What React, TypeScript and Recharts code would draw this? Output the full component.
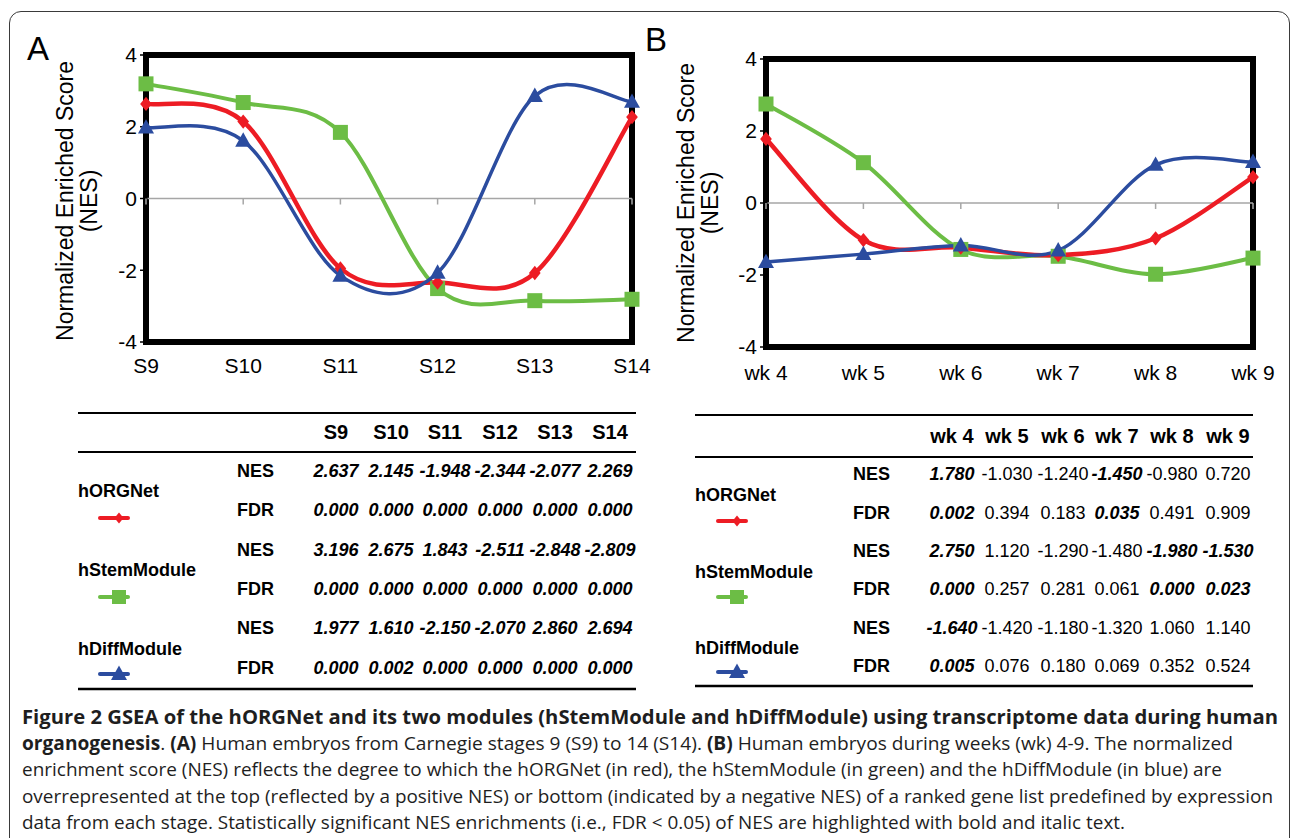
import React from 'react';
import { LineChart, Line, XAxis, YAxis, ReferenceLine, ReferenceArea } from 'recharts';

// ---------- data ----------
const stagesA = ['S9', 'S10', 'S11', 'S12', 'S13', 'S14'];
const orgNesA = [2.637, 2.145, -1.948, -2.344, -2.077, 2.269];
const orgFdrA = [0.0, 0.0, 0.0, 0.0, 0.0, 0.0];
const stemNesA = [3.196, 2.675, 1.843, -2.511, -2.848, -2.809];
const stemFdrA = [0.0, 0.0, 0.0, 0.0, 0.0, 0.0];
const diffNesA = [1.977, 1.61, -2.15, -2.07, 2.86, 2.694];
const diffFdrA = [0.0, 0.002, 0.0, 0.0, 0.0, 0.0];

const weeksB = ['wk 4', 'wk 5', 'wk 6', 'wk 7', 'wk 8', 'wk 9'];
const orgNesB = [1.78, -1.03, -1.24, -1.45, -0.98, 0.72];
const orgFdrB = [0.002, 0.394, 0.183, 0.035, 0.491, 0.909];
const stemNesB = [2.75, 1.12, -1.29, -1.48, -1.98, -1.53];
const stemFdrB = [0.0, 0.257, 0.281, 0.061, 0.0, 0.023];
const diffNesB = [-1.64, -1.42, -1.18, -1.32, 1.06, 1.14];
const diffFdrB = [0.005, 0.076, 0.18, 0.069, 0.352, 0.524];

const yTicks = [-4, -2, 0, 2, 4];
const seriesNames = ['hORGNet', 'hStemModule', 'hDiffModule'];

const RED = '#ED1C24';
const GREEN = '#6CBD45';
const BLUE = '#2B4C9F';
const FONT = '"Liberation Sans", Arial, Helvetica, sans-serif';

// Excel-like smoothed line (Catmull-Rom bezier)
function excelCurve(context: any) {
  let pts: number[][] = [];
  return {
    areaStart() {},
    areaEnd() {},
    lineStart() {
      pts = [];
    },
    point(x: number, y: number) {
      pts.push([+x, +y]);
    },
    lineEnd() {
      const n = pts.length;
      if (!n) return;
      context.moveTo(pts[0][0], pts[0][1]);
      const t = 1 / 6;
      for (let i = 0; i < n - 1; i++) {
        const p0 = pts[Math.max(i - 1, 0)];
        const p1 = pts[i];
        const p2 = pts[i + 1];
        const p3 = pts[Math.min(i + 2, n - 1)];
        context.bezierCurveTo(
          p1[0] + (p2[0] - p0[0]) * t,
          p1[1] + (p2[1] - p0[1]) * t,
          p2[0] - (p3[0] - p1[0]) * t,
          p2[1] - (p3[1] - p1[1]) * t,
          p2[0],
          p2[1]
        );
      }
    },
  };
}

const diamondPath = (cx: number, cy: number, s: number) =>
  `M${cx},${cy - s * 1.1}L${cx + s * 0.9},${cy}L${cx},${cy + s * 1.1}L${cx - s * 0.9},${cy}Z`;
const squarePath = (cx: number, cy: number, s: number) =>
  `M${cx - s},${cy - s}h${2 * s}v${2 * s}h${-2 * s}Z`;
const trianglePath = (cx: number, cy: number, s: number) =>
  `M${cx},${cy - s * 1.05}L${cx + s},${cy + s * 0.75}L${cx - s},${cy + s * 0.75}Z`;

const markerFns = [diamondPath, squarePath, trianglePath];
const colors = [RED, GREEN, BLUE];

function makeDot(kind: number, size: number) {
  return (p: any) => {
    if (p.cx == null || p.cy == null) return <g key={`e${kind}-${p.index}`} />;
    return <path key={`m${kind}-${p.index}`} d={markerFns[kind](p.cx, p.cy, size)} fill={colors[kind]} stroke="none" />;
  };
}

const zeroTick = (p: any) => (
  <line key={`z${p.index}`} x1={p.cx} x2={p.cx} y1={p.cy} y2={p.cy + 6} stroke="#a6a6a6" strokeWidth={1.5} />
);

type PanelProps = {
  cats: string[];
  org: number[];
  stem: number[];
  diff: number[];
  left: number;
  width: number;
  height: number;
  margin: { top: number; right: number; bottom: number; left: number };
  xAxisHeight: number;
  tickMargin: number;
};

function Panel({ cats, org, stem, diff, left, width, height, margin, xAxisHeight, tickMargin }: PanelProps) {
  const data = cats.map((c, i) => ({ cat: c, org: org[i], stem: stem[i], diff: diff[i], zero: 0 }));
  return (
    <div style={{ position: 'absolute', left, top: 0, width, height }}>
      <LineChart width={width} height={height} data={data} margin={margin}>
        <XAxis
          dataKey="cat"
          type="category"
          scale="point"
          padding={{ left: 0, right: 0 }}
          axisLine={false}
          tickLine={false}
          tickMargin={tickMargin}
          height={xAxisHeight}
          interval={0}
          tick={{ fontSize: 21, fill: '#000', fontFamily: FONT }}
        />
        <YAxis
          domain={[-4, 4]}
          ticks={yTicks}
          width={46}
          axisLine={{ stroke: '#000', strokeWidth: 3 }}
          tickLine={{ stroke: '#000', strokeWidth: 1.5 }}
          tickSize={6}
          tickMargin={3}
          interval={0}
          tick={{ fontSize: 21, fill: '#000', fontFamily: FONT }}
        />
        <ReferenceArea x1={cats[0]} x2={cats[cats.length - 1]} y1={-4} y2={4} fill="none" fillOpacity={0} stroke="#000" strokeWidth={6} />
        <ReferenceLine y={0} stroke="#a6a6a6" strokeWidth={1.5} />
        <Line dataKey="zero" stroke="none" dot={zeroTick} activeDot={false} isAnimationActive={false} legendType="none" />
        <Line dataKey="stem" type={excelCurve as any} stroke={GREEN} strokeWidth={4} dot={makeDot(1, 7.5)} activeDot={false} isAnimationActive={false} />
        <Line dataKey="org" type={excelCurve as any} stroke={RED} strokeWidth={4.5} dot={makeDot(0, 6.5)} activeDot={false} isAnimationActive={false} />
        <Line dataKey="diff" type={excelCurve as any} stroke={BLUE} strokeWidth={3.5} dot={makeDot(2, 8)} activeDot={false} isAnimationActive={false} />
      </LineChart>
    </div>
  );
}

type TableProps = {
  cats: string[];
  nes: number[][];
  fdr: number[][];
  colX: number[];
  ruleX1: number;
  ruleX2: number;
  rules: number[];
  headerY: number;
  rowY: number[];
  nameX: number;
  labelX: number;
  nameY: number[];
  markerX: number;
  markerY: number[];
};

function LegendMarker({ kind, x, y }: { kind: number; x: number; y: number }) {
  return (
    <g>
      <line x1={x} x2={x + 28} y1={y} y2={y} stroke={colors[kind]} strokeWidth={4} strokeLinecap="round" />
      <path d={markerFns[kind](x + 19, y, kind === 0 ? 5 : kind === 1 ? 7 : 8)} fill={colors[kind]} />
    </g>
  );
}

function DataTable(p: TableProps) {
  const fs = 18;
  return (
    <g fontFamily={FONT} fontSize={fs} fill="#000">
      <line x1={p.ruleX1} x2={p.ruleX2} y1={p.rules[0]} y2={p.rules[0]} stroke="#000" strokeWidth={2} />
      <line x1={p.ruleX1} x2={p.ruleX2} y1={p.rules[1]} y2={p.rules[1]} stroke="#000" strokeWidth={2} />
      <line x1={p.ruleX1} x2={p.ruleX2} y1={p.rules[2]} y2={p.rules[2]} stroke="#000" strokeWidth={2.5} />
      {p.cats.map((c, i) => (
        <text key={`h${i}`} x={p.colX[i]} y={p.headerY} textAnchor="middle" dominantBaseline="central" fontWeight={700} fontSize={20}>
          {c}
        </text>
      ))}
      {seriesNames.map((nm, s) => (
        <g key={`s${s}`}>
          <text x={p.nameX} y={p.nameY[s]} dominantBaseline="central" fontWeight={700}>
            {nm}
          </text>
          <LegendMarker kind={s} x={p.markerX} y={p.markerY[s]} />
          <text x={p.labelX} y={p.rowY[2 * s]} dominantBaseline="central" fontWeight={700}>
            NES
          </text>
          <text x={p.labelX} y={p.rowY[2 * s + 1]} dominantBaseline="central" fontWeight={700}>
            FDR
          </text>
          {p.cats.map((c, i) => {
            const sig = p.fdr[s][i] < 0.05;
            const st = { fontWeight: sig ? 700 : 400, fontStyle: sig ? 'italic' : 'normal' } as any;
            return (
              <g key={`v${s}-${i}`}>
                <text x={p.colX[i]} y={p.rowY[2 * s]} textAnchor="middle" dominantBaseline="central" style={st}>
                  {p.nes[s][i].toFixed(3)}
                </text>
                <text x={p.colX[i]} y={p.rowY[2 * s + 1]} textAnchor="middle" dominantBaseline="central" style={st}>
                  {p.fdr[s][i].toFixed(3)}
                </text>
              </g>
            );
          })}
        </g>
      ))}
    </g>
  );
}

function YTitle({ x1, x2, cy }: { x1: number; x2: number; cy: number }) {
  return (
    <g fontFamily={FONT} fontSize={23} fill="#000">
      <text x={x1} y={cy} transform={`rotate(-90 ${x1} ${cy})`} textAnchor="middle" dominantBaseline="central">
        Normalized Enriched Score
      </text>
      <text x={x2} y={cy} transform={`rotate(-90 ${x2} ${cy})`} textAnchor="middle" dominantBaseline="central">
        (NES)
      </text>
    </g>
  );
}

export default function App() {
  const capFont = '"Open Sans", "Noto Sans", sans-serif';
  const capLines = [724, 750, 776, 803, 829];
  const adj = 'spacingAndGlyphs' as any;
  return (
    <div style={{ position: 'fixed', left: 0, top: 0, width: 1293, height: 838, overflow: 'hidden', background: '#fff' }}>
      <div
        style={{
          position: 'absolute',
          left: 9,
          top: 11,
          width: 1281,
          height: 1000,
          border: '1.5px solid #3a3a3a',
          borderRadius: 12,
          boxSizing: 'border-box',
        }}
      />
      <Panel
        cats={stagesA}
        org={orgNesA}
        stem={stemNesA}
        diff={diffNesA}
        left={0}
        width={660}
        height={400}
        margin={{ top: 55, right: 28, bottom: 0, left: 100 }}
        xAxisHeight={58}
        tickMargin={10}
      />
      <Panel
        cats={weeksB}
        org={orgNesB}
        stem={stemNesB}
        diff={diffNesB}
        left={640}
        width={653}
        height={400}
        margin={{ top: 59, right: 40, bottom: 0, left: 80 }}
        xAxisHeight={53}
        tickMargin={12}
      />
      <svg width={1293} height={838} style={{ position: 'absolute', left: 0, top: 0, pointerEvents: 'none' }}>
        <text x={27} y={60} fontFamily={FONT} fontSize={33} fill="#000">A</text>
        <text x={645} y={51} fontFamily={FONT} fontSize={33} fill="#000">B</text>
        <YTitle x1={65} x2={89} cy={201} />
        <YTitle x1={686} x2={710} cy={203} />
        <DataTable
          cats={stagesA}
          nes={[orgNesA, stemNesA, diffNesA]}
          fdr={[orgFdrA, stemFdrA, diffFdrA]}
          colX={[336, 391, 445, 500, 555, 610]}
          ruleX1={78}
          ruleX2={636}
          rules={[413, 452, 689]}
          headerY={432}
          rowY={[471, 510, 550, 589, 628, 668]}
          nameX={78}
          labelX={237}
          nameY={[491, 570, 649]}
          markerX={100}
          markerY={[518, 597, 674]}
        />
        <DataTable
          cats={weeksB}
          nes={[orgNesB, stemNesB, diffNesB]}
          fdr={[orgFdrB, stemFdrB, diffFdrB]}
          colX={[952, 1007, 1063, 1117, 1172, 1228]}
          ruleX1={695}
          ruleX2={1253}
          rules={[415, 457, 686]}
          headerY={436}
          rowY={[474, 513, 551, 589, 628, 666]}
          nameX={695}
          labelX={853}
          nameY={[495, 572, 648]}
          markerX={718}
          markerY={[521, 597, 672]}
        />
        <g fontFamily={capFont} fontSize={19} fill="#1e1e1e">
          <text x={22} y={capLines[0]} fontWeight={700} fontSize={20} textLength={1256} lengthAdjust={adj}>
            Figure 2 GSEA of the hORGNet and its two modules (hStemModule and hDiffModule) using transcriptome data during human
          </text>
          <text x={22} y={capLines[1]} textLength={1211} lengthAdjust={adj}>
            <tspan fontWeight={700}>organogenesis</tspan>. <tspan fontWeight={700}>(A)</tspan> Human embryos from Carnegie stages 9 (S9) to 14 (S14).{' '}
            <tspan fontWeight={700}>(B)</tspan> Human embryos during weeks (wk) 4-9. The normalized
          </text>
          <text x={22} y={capLines[2]} textLength={1200} lengthAdjust={adj}>
            enrichment score (NES) reflects the degree to which the hORGNet (in red), the hStemModule (in green) and the hDiffModule (in blue) are
          </text>
          <text x={22} y={capLines[3]} textLength={1251} lengthAdjust={adj}>
            overrepresented at the top (reflected by a positive NES) or bottom (indicated by a negative NES) of a ranked gene list predefined by expression
          </text>
          <text x={22} y={capLines[4]} textLength={1103} lengthAdjust={adj}>
            data from each stage. Statistically significant NES enrichments (i.e., FDR &lt; 0.05) of NES are highlighted with bold and italic text.
          </text>
        </g>
      </svg>
    </div>
  );
}
